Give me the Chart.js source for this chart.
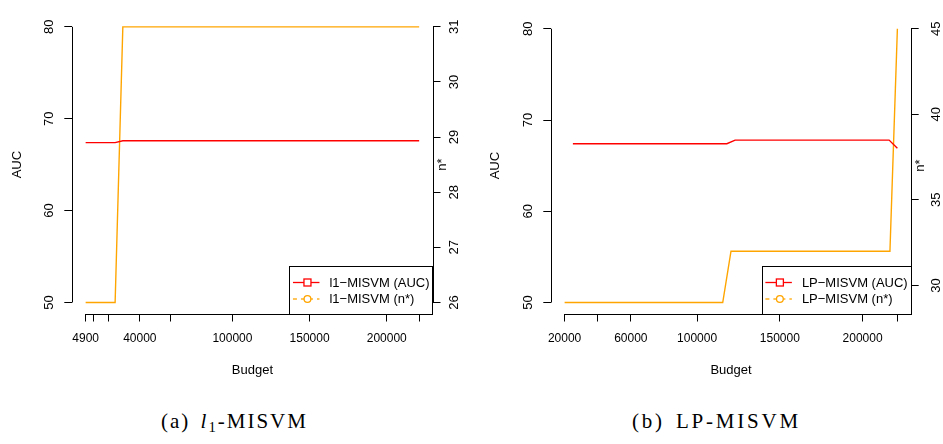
<!DOCTYPE html>
<html>
<head>
<meta charset="utf-8">
<script src="https://cdn.jsdelivr.net/npm/chart.js@4.4.1/dist/chart.umd.min.js"></script>
<style>
  html, body { margin: 0; padding: 0; background: #fff; }
  body { width: 943px; height: 444px; position: relative; overflow: hidden; }
  canvas { position: absolute; top: 0; }
  #chartA { left: 0; }
  #chartB { left: 471px; }
  .caption {
    position: absolute; top: 409px; line-height: 24px;
    font-family: "Liberation Serif", "DejaVu Serif", serif; font-size: 21px;
    letter-spacing: 2px; word-spacing: 3px; white-space: nowrap; color: #000;
  }
  .caption sub { font-size: 0.7em; vertical-align: -0.25em; line-height: 0; }
</style>
</head>
<body>
<canvas id="chartA" width="471" height="400"></canvas>
<canvas id="chartB" width="472" height="400"></canvas>
<div class="caption" style="left:161px">(a) <i>l</i><sub>1</sub>-MISVM</div>
<div class="caption" style="left:632px; letter-spacing:2.8px">(b) LP-MISVM</div>
<script>
// panel (a) l1-MISVM
var budgetA = [4900, 10000, 20000, 24000, 29000, 40000, 60000, 100000, 150000, 200000, 221000];
var aucA = [67.4, 67.4, 67.4, 67.4, 67.6, 67.6, 67.6, 67.6, 67.6, 67.6, 67.6];
var nStarA = [26, 26, 26, 26, 31, 31, 31, 31, 31, 31, 31];
var budgetTicksA = [4900, 10000, 20000, 40000, 60000, 100000, 150000, 200000, 221000];
var budgetLabelsA = [4900, 40000, 100000, 150000, 200000];
var aucTicksA = [50, 60, 70, 80];
var nStarTicksA = [26, 27, 28, 29, 30, 31];
var legendA = ['l1\u2212MISVM (AUC)', 'l1\u2212MISVM (n*)'];

// panel (b) LP-MISVM
var budgetAucB = [25000, 118000, 123000, 216000, 221000];
var aucB = [67.4, 67.4, 67.8, 67.8, 66.9];
var budgetNStarB = [20000, 115500, 120500, 216500, 221000];
var nStarB = [29, 29, 32, 32, 45];
var budgetTicksB = [20000, 40000, 60000, 100000, 150000, 200000, 221000];
var budgetLabelsB = [20000, 60000, 100000, 150000, 200000];
var aucTicksB = [50, 60, 70, 80];
var nStarTicksB = [30, 35, 40, 45];
var legendB = ['LP\u2212MISVM (AUC)', 'LP\u2212MISVM (n*)'];

var aucLimits = [50, 80];

Chart.defaults.font.family = '"Liberation Sans", Arial, sans-serif';
Chart.defaults.color = '#000';

// R style axis range: data range plus 4% on each side
function rRange(lo, hi) {
  var d = (hi - lo) * 0.04;
  return { min: lo - d, max: hi + d };
}

function toPoints(xs, ys) {
  return xs.map(function (x, i) { return { x: x, y: ys[i] }; });
}

// axis lines (only between first and last tick), n* label, legend box
var rExtras = {
  id: 'rExtras',
  afterDraw: function (chart, args, o) {
    var ctx = chart.ctx;
    var a = chart.chartArea;
    var sx = chart.scales.x, sy = chart.scales.y, sy1 = chart.scales.y1;
    var px = function (v) { return Math.round(v) + 0.5; };
    ctx.save();
    ctx.strokeStyle = '#000';
    ctx.lineWidth = 1;
    ctx.beginPath();
    ctx.moveTo(sx.getPixelForValue(o.xTicks[0]), px(a.bottom));
    ctx.lineTo(sx.getPixelForValue(o.xTicks[o.xTicks.length - 1]), px(a.bottom));
    ctx.moveTo(px(a.left), sy.getPixelForValue(o.yTicks[0]));
    ctx.lineTo(px(a.left), sy.getPixelForValue(o.yTicks[o.yTicks.length - 1]));
    ctx.moveTo(px(a.right), sy1.getPixelForValue(o.y1Ticks[0]));
    ctx.lineTo(px(a.right), sy1.getPixelForValue(o.y1Ticks[o.y1Ticks.length - 1]));
    ctx.stroke();

    // right axis title, reads bottom to top like R's mtext
    ctx.font = '13px "Liberation Sans", Arial, sans-serif';
    ctx.fillStyle = '#000';
    ctx.save();
    ctx.translate(a.right + 9.5, (a.top + a.bottom) / 2);
    ctx.rotate(-Math.PI / 2);
    ctx.textAlign = 'center';
    ctx.textBaseline = 'middle';
    ctx.fillText('n*', 0, 0);
    ctx.restore();

    // legend, bottom right
    var ds = chart.data.datasets;
    var textW = 0;
    ds.forEach(function (d) { textW = Math.max(textW, ctx.measureText(d.label).width); });
    var bw = textW + 43, bh = 47.5;
    var bx = a.right - bw, by = a.bottom - bh;
    ctx.strokeRect(px(bx), px(by), Math.round(bw), Math.round(bh));
    ds.forEach(function (d, i) {
      var ry = by + 16.5 + i * 16.5;
      ctx.strokeStyle = d.borderColor;
      ctx.lineWidth = 1.3;
      ctx.setLineDash(i === 1 ? [4, 4] : []);
      ctx.beginPath();
      ctx.moveTo(bx + 3.5, ry);
      ctx.lineTo(bx + 30, ry);
      ctx.stroke();
      ctx.setLineDash([]);
      ctx.beginPath();
      if (i === 0) {
        ctx.fillStyle = '#fff';
        ctx.fillRect(bx + 14.5, ry - 3.5, 7, 7);
        ctx.strokeRect(bx + 14.5, ry - 3.5, 7, 7);
      } else {
        ctx.fillStyle = '#fff';
        ctx.arc(bx + 18, ry, 3.4, 0, Math.PI * 2);
        ctx.fill();
        ctx.stroke();
      }
      ctx.fillStyle = '#000';
      ctx.textAlign = 'left';
      ctx.textBaseline = 'middle';
      ctx.fillText(d.label, bx + 40, ry + 0.5);
    });
    ctx.restore();
  }
};

function tickAxis(list) {
  return function (scale) {
    scale.ticks = list.map(function (v) { return { value: v }; });
  };
}

var tickGrid = { display: true, drawOnChartArea: false, drawTicks: true, tickLength: 8, color: '#000', lineWidth: 1 };

function makeChart(id, cfg) {
  var allX = cfg.aucX.concat(cfg.nX);
  var xr = rRange(Math.min.apply(null, allX), Math.max.apply(null, allX));
  var yr = rRange(aucLimits[0], aucLimits[1]);
  var y1r = rRange(Math.min.apply(null, cfg.nY), Math.max.apply(null, cfg.nY));

  return new Chart(document.getElementById(id), {
    type: 'scatter',
    data: {
      datasets: [
        {
          label: cfg.legend[0],
          data: toPoints(cfg.aucX, cfg.aucY),
          yAxisID: 'y',
          showLine: true,
          borderColor: '#ff0000',
          borderWidth: 1.4,
          pointRadius: 0,
        },
        {
          label: cfg.legend[1],
          data: toPoints(cfg.nX, cfg.nY),
          yAxisID: 'y1',
          showLine: true,
          borderColor: '#ffa500',
          borderWidth: 1.4,
          pointRadius: 0,
        },
      ],
    },
    options: {
      responsive: false,
      animation: false,
      layout: { padding: { top: 2.5, left: 0, right: 0, bottom: 0 } },
      scales: {
        x: {
          type: 'linear',
          position: 'bottom',
          min: xr.min,
          max: xr.max,
          afterBuildTicks: tickAxis(cfg.xTicks),
          afterFit: function (s) { s.height = 86.5; },
          grid: tickGrid,
          border: { display: false },
          ticks: {
            autoSkip: false,
            maxRotation: 0,
            padding: 10,
            font: { size: 12 },
            callback: function (v) { return cfg.xLabels.indexOf(v) >= 0 ? String(v) : ''; },
          },
          title: { display: true, text: 'Budget', font: { size: 13 }, padding: { top: 0, bottom: 22 } },
        },
        y: {
          type: 'linear',
          position: 'left',
          min: yr.min,
          max: yr.max,
          afterBuildTicks: tickAxis(cfg.yTicks),
          afterFit: function (s) { s.width = cfg.left; },
          grid: tickGrid,
          border: { display: false },
          ticks: { minRotation: 90, maxRotation: 90, crossAlign: 'center', padding: 8, font: { size: 13 } },
          title: { display: true, text: 'AUC', font: { size: 13 }, padding: { top: cfg.aucTitle - 7.8, bottom: 0 } },
        },
        y1: {
          type: 'linear',
          position: 'right',
          min: y1r.min,
          max: y1r.max,
          afterBuildTicks: tickAxis(cfg.y1Ticks),
          afterFit: function (s) { s.width = cfg.right; },
          grid: tickGrid,
          border: { display: false },
          ticks: { minRotation: 90, maxRotation: 90, crossAlign: 'center', padding: cfg.rightPad, font: { size: 13 } },
        },
      },
      plugins: {
        legend: { display: false },
        tooltip: { enabled: false },
        rExtras: { xTicks: cfg.xTicks, yTicks: cfg.yTicks, y1Ticks: cfg.y1Ticks },
      },
    },
    plugins: [rExtras],
  });
}

makeChart('chartA', {
  aucX: budgetA, aucY: aucA, nX: budgetA, nY: nStarA,
  xTicks: budgetTicksA, xLabels: budgetLabelsA,
  yTicks: aucTicksA, y1Ticks: nStarTicksA, legend: legendA,
  left: 72.3, right: 38.5, aucTitle: 17.3, rightPad: 7,
});

makeChart('chartB', {
  aucX: budgetAucB, aucY: aucB, nX: budgetNStarB, nY: nStarB,
  xTicks: budgetTicksB, xLabels: budgetLabelsB,
  yTicks: aucTicksB, y1Ticks: nStarTicksB, legend: legendB,
  left: 80.3, right: 32.3, aucTitle: 24, rightPad: 10,
});
</script>
</body>
</html>
